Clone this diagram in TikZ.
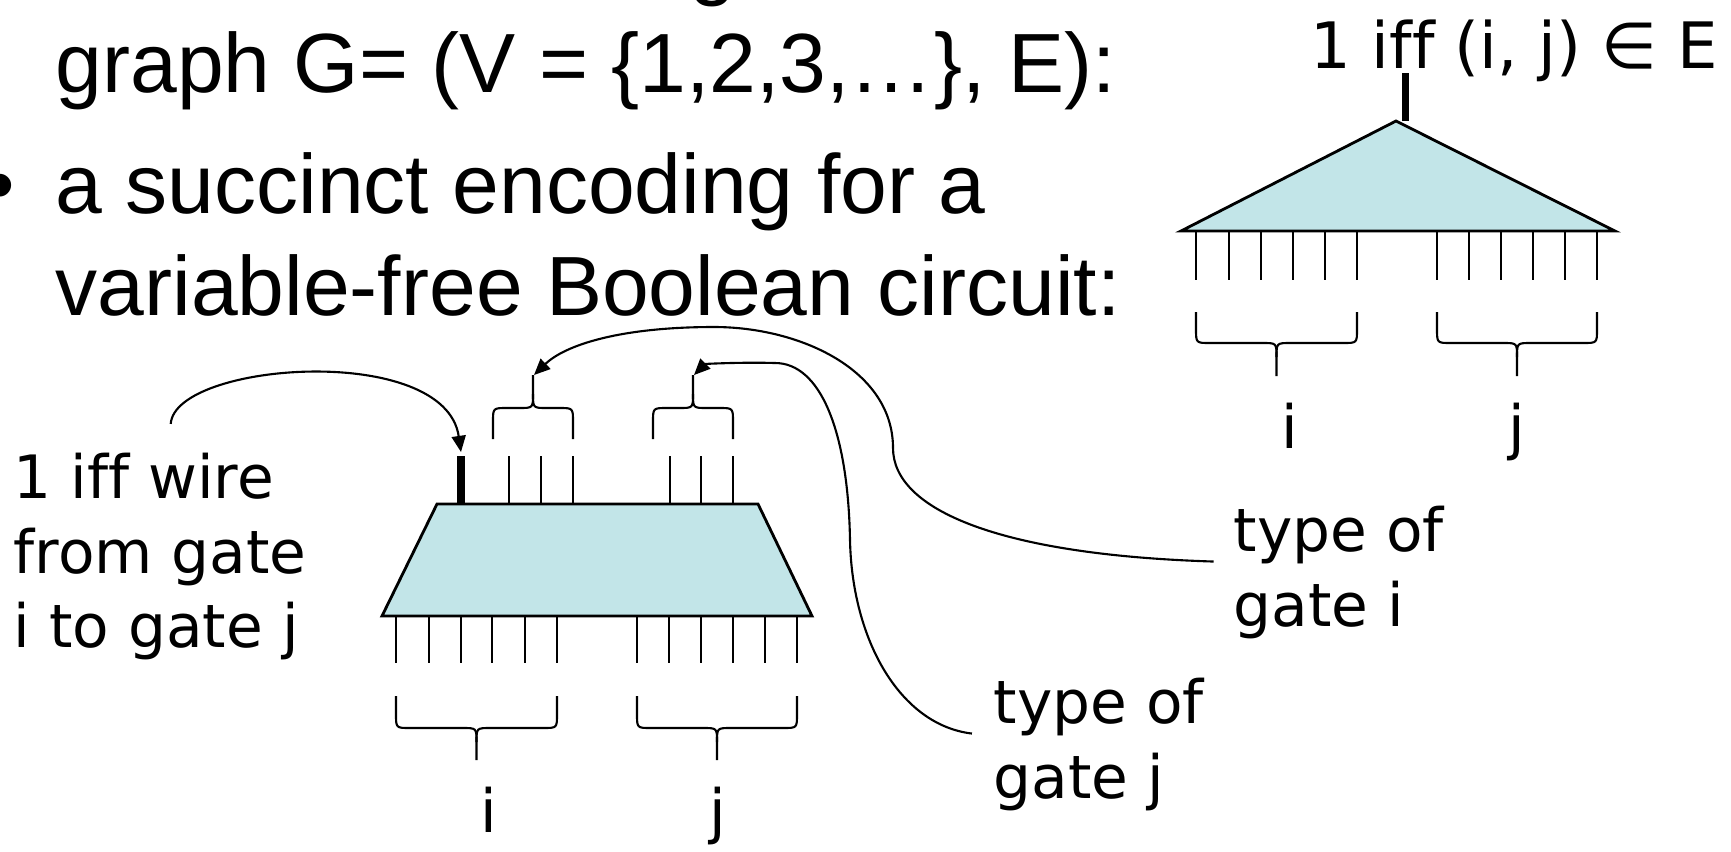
\documentclass[tikz,border=0pt]{standalone}
\usepackage{fontspec}
\setmainfont{Liberation Sans}
\newfontfamily\handfont[Ligatures=NoCommon]{DejaVu Sans}
\definecolor{gatefill}{RGB}{194, 229, 232}
\usetikzlibrary{arrows.meta, calc}
\tikzset{
	slide/.style={anchor=base west, inner sep=0pt, font=\fontsize{23.9pt}{28pt}\selectfont},
	note/.style={anchor=north west, inner sep=0pt, align=left, font=\handfont\fontsize{17pt}{21.3pt}\selectfont},
	bit/.style={anchor=base, inner sep=0pt, font=\handfont\fontsize{17pt}{21pt}\selectfont},
	block/.style={draw=black, fill=gatefill, line width=0.8pt},
	wire/.style={draw=black, line width=0.6pt},
	buswire/.style={draw=black, line width=2pt},
	bracepath/.style={draw=black, line width=0.6pt},
	arrow/.style={-{Triangle[length=4.6pt, width=4pt]}, line width=0.6pt, draw=black},
}
% brace over a group of wires: left x, right x, end y, middle y, tip y, corner (signed)
\newcommand{\wirebrace}[6]{%
	\pgfmathsetmacro{\bxc}{(#1+#2)/2}
	\pgfmathsetmacro{\bya}{#4-(#6)}
	\pgfmathsetmacro{\byb}{#4+(#6)}
	\draw[bracepath] (#1,#3) -- (#1,\bya) .. controls (#1,#4) .. ({#1+14},#4) -- ({\bxc-14},#4) .. controls (\bxc,#4) .. (\bxc,\byb) -- (\bxc,#5);
	\draw[bracepath] (#2,#3) -- (#2,\bya) .. controls (#2,#4) .. ({#2-14},#4) -- ({\bxc+14},#4) .. controls (\bxc,#4) .. (\bxc,\byb);
}

\begin{document}
\begin{tikzpicture}[x=0.01cm, y=-0.01cm]
		\useasboundingbox (0,0) rectangle (1731,851);
		\begin{scope}
			\clip (0,0) rectangle (1731,851);
			\node[slide] (gtail) at (689,-11) {g};
			\node[slide, anchor=base] (dot) at (0,213) {•};
		\end{scope}
		\node[slide] (gline) at (55,92) {graph G= (V = \{1,2,3,…\}, E):};
		\node[slide] (sline) at (55,213) {a succinct encoding for a};
		\node[slide] (cline) at (55,315) {variable-free Boolean circuit:};

		% succinct circuit
		\draw[block] (437,504) -- (758,504) -- (812,616) -- (382,616) -- cycle;
		\foreach \x in {396,429,461,492,525,557,637,669,701,733,765,797}
			\draw[wire] (\x,616) -- (\x,663);
		\foreach \x in {509,541,573,670,701,733}
			\draw[wire] (\x,456) -- (\x,504);
		\draw[buswire] (461,456) -- (461,504);
		\wirebrace{396}{557}{696}{728}{760}{14}
		\wirebrace{637}{797}{696}{728}{760}{14}
		\wirebrace{493}{573}{439}{408}{375}{-14}
		\wirebrace{653}{733}{439}{408}{375}{-14}
		\coordinate (wtop) at (461,452);
		\coordinate (tipi) at (534,375);
		\coordinate (tipj) at (694,375);
		\node[bit] (ci) at (489,832) {i};
		\node[bit] (cj) at (718,832) {j};

		% graph circuit
		\draw[block] (1396,121) -- (1615,231) -- (1181,231) -- cycle;
		\foreach \x in {1196,1229,1261,1293,1325,1357,1437,1469,1501,1533,1565,1597}
			\draw[wire] (\x,231) -- (\x,280);
		\draw[buswire] (1405,121) -- (1405,73);
		\wirebrace{1196}{1357}{312}{343}{376}{14}
		\wirebrace{1437}{1597}{312}{343}{376}{14}
		\node[bit] (gi) at (1290,448) {i};
		\node[bit] (gj) at (1517,448) {j};
		\node[bit, anchor=base west, font=\handfont\fontsize{18.2pt}{22pt}\selectfont] (edge) at (1310,68) {1 iff (i, j) ∈ E};

		% annotations
		\node[note] (wirelbl) at (13,452) {1 iff wire\\from gate\\i to gate j};
		\node[note] (typei) at (1233,505) {type of\\gate i};
		\node[note] (typej) at (993,677) {type of\\gate j};
		\draw[arrow] ([xshift=3pt, yshift=8pt]wirelbl.north) .. controls (175,362) and (445,342) .. (wtop);
		\draw[arrow] ([xshift=-5.5pt, yshift=3pt]typei.west) .. controls (1000,555) and (893,510) .. (893,448) .. controls (893,370) and (800,327) .. (714,327) .. controls (620,327) and (565,345) .. (tipi);
		\draw[arrow] ([xshift=-6pt, yshift=3pt]typej.west) .. controls (900,725) and (852,640) .. (850,540) .. controls (848,430) and (820,363) .. (775,363) .. controls (740,362) and (705,364) .. (tipj);
	\end{tikzpicture}
\end{document}
